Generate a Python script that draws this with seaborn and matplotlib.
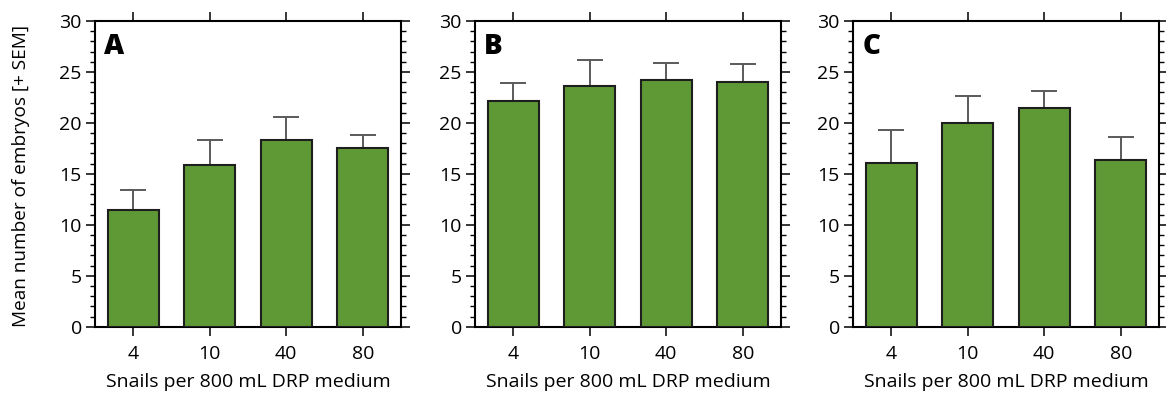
import matplotlib
matplotlib.use("Agg")
import matplotlib.pyplot as plt
from matplotlib.ticker import MultipleLocator
import numpy as np
import pandas as pd
import seaborn as sns

# Snail density groups (snails per 800 mL of DRP medium)
densities = ["4", "10", "40", "80"]

# Mean embryo counts and SEM for the three experiments
means_a = [11.45, 15.82, 18.37, 17.52]
sem_a = [1.98, 2.55, 2.25, 1.30]

means_b = [22.12, 23.59, 24.22, 24.02]
sem_b = [1.77, 2.59, 1.70, 1.80]

means_c = [16.11, 20.00, 21.47, 16.37]
sem_c = [3.24, 2.65, 1.67, 2.29]

panel_letters = ["A", "B", "C"]

bar_color = "#5f9935"
edge_color = "#1e1e1e"
err_color = "#5a5a5a"

sns.set_style("ticks")
plt.rcParams["font.family"] = ["Open Sans", "DejaVu Sans"]
plt.rcParams["text.color"] = "black"
plt.rcParams["axes.labelcolor"] = "black"
plt.rcParams["xtick.color"] = "black"
plt.rcParams["ytick.color"] = "black"

fig = plt.figure(figsize=(11.66, 3.96), dpi=100)
W, H = 1166, 396
lefts = [95, 475, 853]
ax_w = 306
top_px, bot_px = 21, 326.7

panels = [(means_a, sem_a), (means_b, sem_b), (means_c, sem_c)]

for i, ((means, sems), letter) in enumerate(zip(panels, panel_letters)):
    ax = fig.add_axes([lefts[i] / W, 1 - bot_px / H, ax_w / W, (bot_px - top_px) / H])
    df = pd.DataFrame({"density": densities, "mean": means, "sem": sems})
    sns.barplot(data=df, x="density", y="mean", order=densities, color=bar_color,
                edgecolor=edge_color, linewidth=1.5, width=0.67, errorbar=None,
                saturation=1, ax=ax, zorder=3)
    pos = np.arange(len(densities))
    ax.errorbar(pos, df["mean"], yerr=[np.zeros(len(sems)), df["sem"]], fmt="none",
                ecolor=err_color, elinewidth=1.4, capsize=9.7, capthick=1.4, zorder=2)

    ax.set_xlim(-0.5, 3.5)
    ax.set_ylim(0, 30)
    ax.yaxis.set_major_locator(MultipleLocator(5))
    ax.yaxis.set_minor_locator(MultipleLocator(1))
    ax.tick_params(axis="both", which="major", direction="out", length=6.5, width=1.1,
                   labelsize=14, colors="black", pad=3)
    ax.tick_params(axis="y", which="minor", direction="out", length=3.6, width=1.0)
    ax.tick_params(top=True, right=True, which="both")
    ax.tick_params(axis="y", which="minor", left=True, right=True)
    ax.tick_params(axis="x", pad=7)
    for s in ax.spines.values():
        s.set_visible(True)
        s.set_linewidth(1.5)
        s.set_color("black")
    ax.set_xlabel("Snails per 800 mL DRP medium", fontsize=14, labelpad=7)
    if i == 0:
        ax.set_ylabel("Mean number of embryos [+ SEM]", fontsize=13.7)
        ax.yaxis.set_label_coords(-0.212, 0.493)
    else:
        ax.set_ylabel("")
    ax.text(0.03, 0.965, letter, transform=ax.transAxes, fontsize=20, fontweight="heavy",
            va="top", ha="left")

fig.savefig("out.png", dpi=100)
